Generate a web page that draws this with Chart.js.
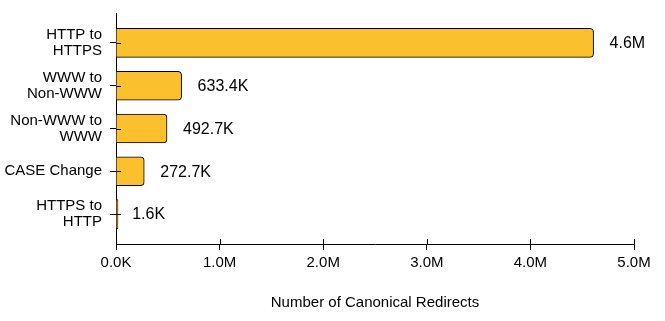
<!DOCTYPE html>
<html>
<head>
<meta charset="utf-8">
<script src="https://cdn.jsdelivr.net/npm/chart.js@4/dist/chart.umd.min.js"></script>
<style>
  html, body { margin: 0; padding: 0; background: #fff; }
  #wrap { width: 665px; height: 321px; }
</style>
</head>
<body>
<div id="wrap"><canvas id="redirectChart"></canvas></div>
<script>
const categories = [['HTTP to', 'HTTPS'], ['WWW to', 'Non-WWW'], ['Non-WWW to', 'WWW'], ['CASE Change'], ['HTTPS to', 'HTTP']];
const redirectCounts = [4610000, 633400, 492700, 272700, 1600];
const xTicks = [0, 1000000, 2000000, 3000000, 4000000, 5000000];

const fmt = v => v >= 1e6 ? (v / 1e6).toFixed(1) + 'M' : (v / 1e3).toFixed(1) + 'K';

Chart.defaults.font.family = "'Liberation Sans', Arial, Helvetica, sans-serif";
Chart.defaults.color = '#000';

// inner half of the crossing tick marks
const innerTicks = {
  id: 'innerTicks',
  afterDatasetsDraw(chart) {
    const { ctx, scales: { x, y } } = chart;
    ctx.save();
    ctx.strokeStyle = '#000';
    ctx.lineWidth = 1;
    ctx.beginPath();
    categories.forEach((c, i) => {
      const py = Math.round(y.getPixelForValue(i)) + 0.5;
      ctx.moveTo(y.right, py);
      ctx.lineTo(y.right + 5, py);
    });
    xTicks.forEach(v => {
      const px = Math.round(x.getPixelForValue(v)) + 0.5;
      ctx.moveTo(px, x.top);
      ctx.lineTo(px, x.top - 5);
    });
    ctx.stroke();
    ctx.restore();
  }
};

const valueLabels = {
  id: 'valueLabels',
  afterDatasetsDraw(chart) {
    const { ctx, scales: { x } } = chart;
    const meta = chart.getDatasetMeta(0);
    ctx.save();
    ctx.font = "16px 'Liberation Sans', Arial, sans-serif";
    ctx.fillStyle = '#000';
    ctx.textBaseline = 'middle';
    meta.data.forEach((bar, i) => {
      ctx.fillText(fmt(redirectCounts[i]), x.getPixelForValue(redirectCounts[i]) + 16, bar.y + 1);
    });
    ctx.restore();
  }
};

new Chart(document.getElementById('redirectChart'), {
  type: 'bar',
  data: {
    datasets: [{
      data: categories.map((c, i) => ({ x: redirectCounts[i], y: i })),
      backgroundColor: '#FBC02D',
      borderColor: '#000',
      borderWidth: 1,
      borderRadius: 4,
      barThickness: 29,
      minBarLength: 2
    }]
  },
  options: {
    indexAxis: 'y',
    responsive: true,
    maintainAspectRatio: false,
    animation: false,
    layout: { padding: { top: 13, right: 31, left: 0, bottom: 0 } },
    plugins: { legend: { display: false }, tooltip: { enabled: false } },
    scales: {
      x: {
        type: 'linear',
        min: 0,
        max: 5000000,
        afterFit: s => { s.height = 77; },
        afterBuildTicks: s => { s.ticks = xTicks.map(v => ({ value: v })); },
        ticks: { callback: v => fmt(v), font: { size: 15 }, padding: 4, maxRotation: 0 },
        grid: { drawOnChartArea: false, tickLength: 6, color: '#000' },
        border: { color: '#000' },
        title: {
          display: true,
          text: 'Number of Canonical Redirects',
          font: { size: 15 },
          padding: { top: 4, bottom: 9 }
        }
      },
      y: {
        type: 'linear',
        reverse: true,
        offset: false,
        min: -0.7,
        max: 4.7,
        afterFit: s => { s.width = 116; s.paddingTop = 0; s.paddingBottom = 0; },
        afterBuildTicks: s => { s.ticks = categories.map((c, i) => ({ value: i })); },
        ticks: {
          callback: v => categories[v],
          font: { size: 15, lineHeight: 1.05 },
          padding: 8
        },
        grid: { offset: false, drawOnChartArea: false, tickLength: 6, color: '#000' },
        border: { color: '#000' }
      }
    }
  },
  plugins: [innerTicks, valueLabels]
});
</script>
</body>
</html>
